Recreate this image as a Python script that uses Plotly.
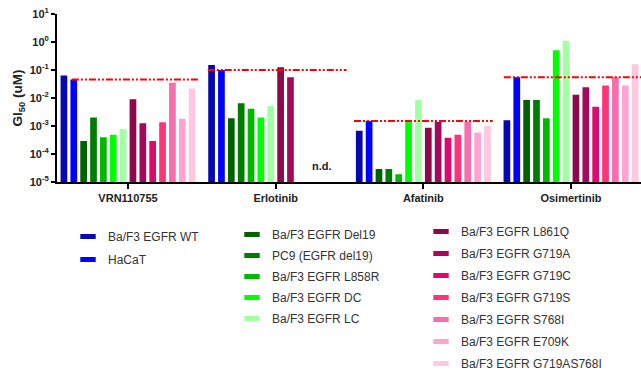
import plotly.graph_objects as go

# ---------------- data ----------------
drugs = ["VRN110755", "Erlotinib", "Afatinib", "Osimertinib"]

cell_lines = [
    "Ba/F3 EGFR WT", "HaCaT",
    "Ba/F3 EGFR Del19", "PC9 (EGFR del19)", "Ba/F3 EGFR L858R", "Ba/F3 EGFR DC", "Ba/F3 EGFR LC",
    "Ba/F3 EGFR L861Q", "Ba/F3 EGFR G719A", "Ba/F3 EGFR G719C", "Ba/F3 EGFR G719S",
    "Ba/F3 EGFR S768I", "Ba/F3 EGFR E709K", "Ba/F3 EGFR G719AS768I",
]

# GI50 (uM) per cell line, in order of drugs; None = n.d.
gi50_wt         = [0.063, 0.15, 6.8e-4, 1.6e-3]
gi50_hacat      = [0.046, 0.10, 1.5e-3, 0.055]
gi50_del19      = [2.9e-4, 1.9e-3, 2.9e-5, 8.5e-3]
gi50_pc9        = [2.0e-3, 6.5e-3, 2.9e-5, 8.5e-3]
gi50_l858r      = [4.0e-4, 4.1e-3, 1.9e-5, 1.9e-3]
gi50_dc         = [4.9e-4, 2.0e-3, 1.5e-3, 0.51]
gi50_lc         = [7.8e-4, 5.2e-3, 8.5e-3, 1.1]
gi50_l861q      = [9.1e-3, 0.126, 8.7e-4, 0.013]
gi50_g719a      = [1.26e-3, 0.055, 1.4e-3, 0.024]
gi50_g719c      = [2.9e-4, None, 3.8e-4, 4.9e-3]
gi50_g719s      = [1.35e-3, None, 4.9e-4, 0.028]
gi50_s768i      = [0.035, None, 1.4e-3, 0.055]
gi50_e709k      = [1.8e-3, None, 5.9e-4, 0.028]
gi50_g719as768i = [0.022, None, 1.0e-3, 0.16]

series = [gi50_wt, gi50_hacat, gi50_del19, gi50_pc9, gi50_l858r, gi50_dc, gi50_lc,
          gi50_l861q, gi50_g719a, gi50_g719c, gi50_g719s, gi50_s768i, gi50_e709k,
          gi50_g719as768i]

ytick_exponents = [-5, -4, -3, -2, -1, 0, 1]

# ---------------- style ----------------
colors = ["#0808B0", "#0000FF",
          "#006100", "#007D00", "#00B800", "#00FF00", "#A3FFA3",
          "#8C0A4B", "#A30A5E", "#DC0A6E", "#FF3377", "#F56EAD", "#FFA3D2", "#FFC8E1"]
legend_of = ["legend"] * 2 + ["legend2"] * 5 + ["legend3"] * 7

FONT = "Liberation Sans, Arial, sans-serif"

fig = go.Figure()
for name, vals, col in zip(cell_lines, series, colors):
    fig.add_trace(go.Bar(
        name=name, x=drugs, y=vals, marker=dict(color=col, line=dict(width=0)),
        showlegend=False, legendgroup=name,
    ))

# legend entries (rectangular swatches like the original)
for name, col, lg in zip(cell_lines, colors, legend_of):
    fig.add_trace(go.Scatter(
        name=name, x=[None], y=[None], mode="markers",
        marker=dict(symbol="line-ew", size=11, color=col, line=dict(width=7, color=col)),
        legend=lg, legendgroup=name, hoverinfo="skip",
    ))

# reference lines at HaCaT level
line_start = [-0.38, -0.46, -0.47, -0.455]
line_end = [0.48, 0.48, 0.47, 0.6]
for i, v in enumerate(gi50_hacat):
    fig.add_shape(type="line", xref="x", yref="y",
                  x0=i + line_start[i], x1=i + line_end[i], y0=v, y1=v,
                  line=dict(color="#FF0000", width=2, dash="7px,2px,2px,2px,2px,2px"),
                  layer="above")

fig.add_annotation(x=1.313, y=-4.43, xref="x", yref="y", text="<b>n.d.</b>",
                   showarrow=False, font=dict(family=FONT, size=11, color="#222"))

ticktext = ["<b>10<sup>%d</sup></b>" % e for e in ytick_exponents]

L, T, H, PW = 57, 14, 168, 584
def px(xp):
    return (xp - L) / PW
def py(yp):
    return (T + H - yp) / H

legend_common = dict(xanchor="left", yanchor="top", bgcolor="rgba(0,0,0,0)",
                     font=dict(family=FONT, size=12, color="#333333"),
                     traceorder="grouped", orientation="v")

fig.update_layout(
    width=641, height=379,
    margin=dict(l=L, r=0, t=T, b=379 - T - H, pad=0, autoexpand=False),
    paper_bgcolor="white", plot_bgcolor="white",
    barmode="group", bargap=0.065, bargroupgap=0.32,
    font=dict(family=FONT, color="#222222"),
    showlegend=True,
    legend=dict(x=px(68), y=py(222), tracegroupgap=4, **legend_common),
    legend2=dict(x=px(232), y=py(220), tracegroupgap=2, **legend_common),
    legend3=dict(x=px(421), y=py(217), tracegroupgap=3, **legend_common),
    xaxis=dict(type="category", range=[-0.481, 3.474], showline=True, linecolor="black",
               linewidth=2, ticks="outside", ticklen=5, tickwidth=2, tickcolor="black",
               showgrid=False, zeroline=False, automargin=False,
               tickfont=dict(family=FONT, size=11, color="#222222", weight="bold")),
    yaxis=dict(type="log", range=[-5, 1], showline=True, linecolor="black", linewidth=2,
               ticks="outside", ticklen=4, tickwidth=2, tickcolor="black",
               tickvals=[10 ** e for e in ytick_exponents], ticktext=ticktext,
               tickfont=dict(family=FONT, size=11, color="#222222"),
               showgrid=False, zeroline=False, automargin=False,
               title=dict(text="<b>GI<sub>50</sub> (uM)</b>", standoff=4,
                          font=dict(family=FONT, size=13.5, color="#222222"))),
)

fig.write_html("out.html", config={"displayModeBar": False},
               post_script="document.body.style.margin='0';")
